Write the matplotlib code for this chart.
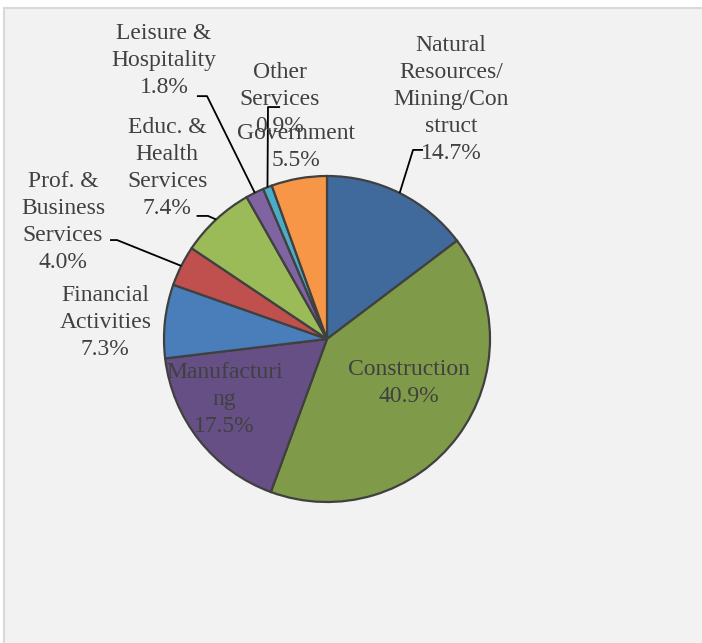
import matplotlib
matplotlib.use('Agg')
import matplotlib.pyplot as plt
from matplotlib.patches import Rectangle
import numpy as np

# data (clockwise from 12 o'clock)
sectors = ['Natural\nResources/\nMining/Con\nstruct', 'Construction', 'Manufacturi\nng',
           'Financial\nActivities', 'Prof. &\nBusiness\nServices', 'Educ. &\nHealth\nServices',
           'Leisure &\nHospitality', 'Other\nServices', 'Government']
shares = [14.7, 40.9, 17.5, 7.3, 4.0, 7.4, 1.8, 0.9, 5.5]
colors = ['#3f6a9b', '#7f9a48', '#664f85', '#4a7ebb', '#c0504d',
          '#9bbb59', '#8064a2', '#4bacc6', '#f79646']

# label placement (pie units) and leader elbows
label_pos = [(0.76, 1.47), (0.50, -0.27), (-0.63, -0.37), (-1.36, 0.10), (-1.62, 0.72),
             (-0.98, 1.05), (-1.00, 1.71), (-0.29, 1.47), (-0.19, 1.18)]
leaders = {0: [(0.528, 1.16), (0.589, 1.16)],
           4: [(-1.288, 0.607), (-1.331, 0.607)],
           5: [(-0.73, 0.755), (-0.80, 0.755)],
           6: [(-0.736, 1.49), (-0.798, 1.49)],
           7: [(-0.362, 1.423), (-0.288, 1.423)]}

plt.rcParams['font.family'] = ['Liberation Serif', 'DejaVu Serif']
txt_color = '#404040'

fig = plt.figure(figsize=(7.02, 6.43), dpi=100, facecolor='white')
fig.patches.append(Rectangle((4 / 702, -0.02), 1.0, 635 / 643 + 0.02, transform=fig.transFigure,
                             facecolor='#f2f2f2', edgecolor='#d9d9d9', lw=1.5, zorder=-5))

ax = fig.add_axes([0, 0, 1, 1])
ax.set_zorder(1)
ax.set_facecolor('none')
wedges, _ = ax.pie(shares, colors=colors, startangle=90, counterclock=False,
                   radius=1.0, wedgeprops=dict(edgecolor='#404040', linewidth=1.6))

for i, (name, val) in enumerate(zip(sectors, shares)):
    x, y = label_pos[i]
    ax.text(x, y, f'{name}\n{val:.1f}%', ha='center', va='center', fontsize=17,
            color=txt_color, linespacing=1.38, zorder=5)
    if i in leaders:
        w = wedges[i]
        ang = np.deg2rad((w.theta1 + w.theta2) / 2)
        pts = [(np.cos(ang), np.sin(ang))] + leaders[i]
        xs, ys = zip(*pts)
        ax.plot(xs, ys, color='black', lw=1.3, zorder=4, solid_capstyle='butt')

ax.set_xlim(-327 / 163, (702 - 327) / 163)
ax.set_ylim(-(643 - 339) / 163, 339 / 163)
ax.set_aspect('auto')
ax.axis('off')

fig.savefig('out.png', dpi=100, facecolor='white')
